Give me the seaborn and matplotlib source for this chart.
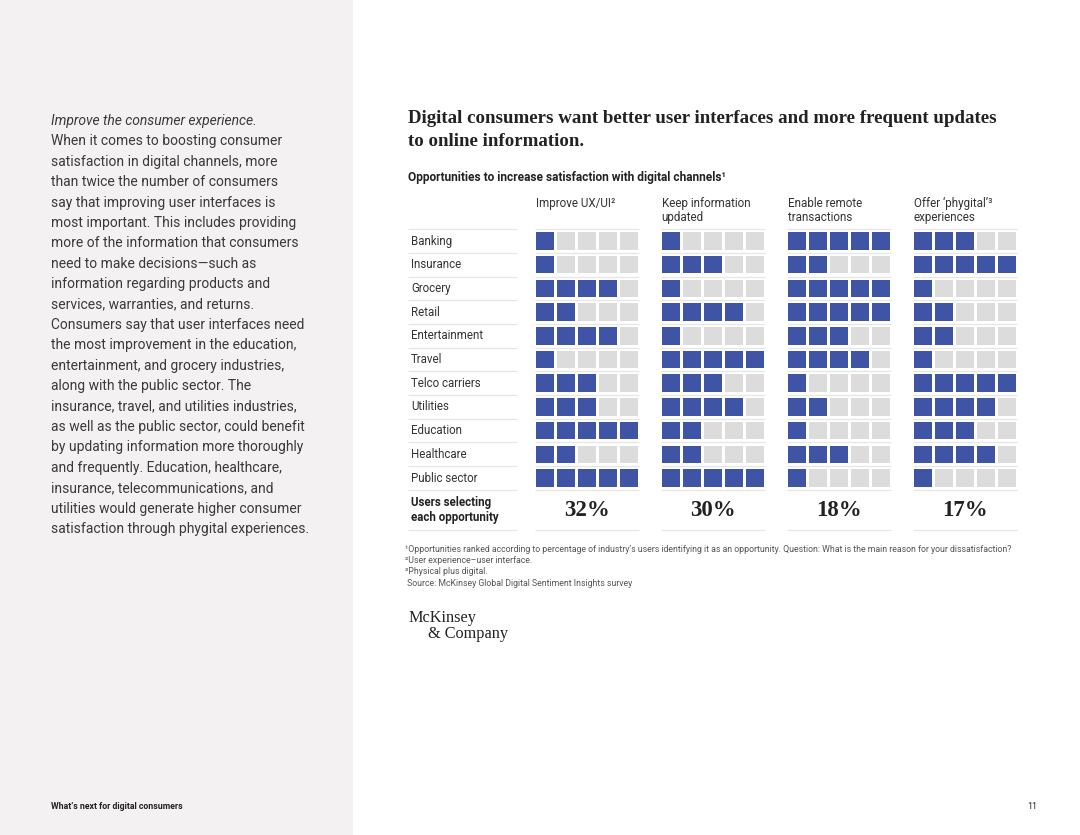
import pandas as pd
import seaborn as sns
import matplotlib.pyplot as plt
from matplotlib.patches import Rectangle

# data
industries = ['Banking', 'Insurance', 'Grocery', 'Retail', 'Entertainment', 'Travel',
              'Telco carriers', 'Utilities', 'Education', 'Healthcare', 'Public sector']
opportunities = ['Improve UX/UI²', 'Keep information\nupdated', 'Enable remote\ntransactions',
                 'Offer ‘phygital’³\nexperiences']
ux_ui = [1, 1, 4, 2, 4, 1, 3, 3, 5, 2, 5]
keep_info = [1, 3, 1, 4, 1, 5, 3, 4, 2, 2, 5]
remote = [5, 2, 5, 5, 3, 4, 1, 2, 1, 3, 1]
phygital = [3, 5, 1, 2, 2, 1, 5, 4, 3, 4, 1]
shares = ['32%', '30%', '18%', '17%']
n_slots = 5

body_lines = [
    'Improve the consumer experience.',
    'When it comes to boosting consumer',
    'satisfaction in digital channels, more',
    'than twice the number of consumers',
    'say that improving user interfaces is',
    'most important. This includes providing',
    'more of the information that consumers',
    'need to make decisions\u2014such as',
    'information regarding products and',
    'services, warranties, and returns.',
    'Consumers say that user interfaces need',
    'the most improvement in the education,',
    'entertainment, and grocery industries,',
    'along with the public sector. The',
    'insurance, travel, and utilities industries,',
    'as well as the public sector, could benefit',
    'by updating information more thoroughly',
    'and frequently. Education, healthcare,',
    'insurance, telecommunications, and',
    'utilities would generate higher consumer',
    'satisfaction through phygital experiences.',
]
footnotes = [
    '¹Opportunities ranked according to percentage of industry’s users identifying it as an opportunity. '
    'Question: What is the main reason for your dissatisfaction?',
    '²User experience\u2013user interface.',
    '³Physical plus digital.',
    ' Source: McKinsey Global Digital Sentiment Insights survey',
]

counts = [ux_ui, keep_info, remote, phygital]
rows = []
for g, col in enumerate(counts):
    for i, n in enumerate(col):
        for j in range(n_slots):
            rows.append({'industry': industries[i], 'x': g * (n_slots + 1) + j, 'y': i,
                         'filled': 'yes' if j < n else 'no'})
df = pd.DataFrame(rows)

sns.set_theme(style='white')
plt.rcParams['font.family'] = ['Roboto', 'DejaVu Sans']

W, H = 1080, 835
fig = plt.figure(figsize=(W / 100, H / 100), dpi=100)
fig.patch.set_facecolor('white')
fig.patches.append(Rectangle((0, 0), 353 / W, 1, transform=fig.transFigure,
                             facecolor='#f3f1f2', edgecolor='none', zorder=0))

def fx(x):
    return x / W

def fy(y):
    return 1 - y / H

BLUE = '#3f54a5'
GREY = '#dddcdd'
LINE = '#e6e6e6'

# left text column
for k, line in enumerate(body_lines):
    fig.text(fx(51), fy(125 + k * 20.4), line, fontsize=10, color='#3a3a3a',
             style='italic' if k == 0 else 'normal', va='baseline', ha='left')

fig.text(fx(51), fy(809), 'What’s next for digital consumers', fontsize=6.3,
         fontweight='bold', color='#222222', va='baseline')
fig.text(fx(1027), fy(809), '11', fontsize=6.3, color='#222222', va='baseline')

# title and subtitle
fig.text(fx(408), fy(123), 'Digital consumers want better user interfaces and more frequent updates',
         family='Liberation Serif', fontweight='bold', fontsize=13.6, color='#222222', va='baseline')
fig.text(fx(408), fy(146), 'to online information.',
         family='Liberation Serif', fontweight='bold', fontsize=13.6, color='#222222', va='baseline')
fig.text(fx(408), fy(181), 'Opportunities to increase satisfaction with digital channels¹',
         fontsize=8.6, fontweight='bold', color='#222222', va='baseline')

# grid axes, laid out so one slot = 21 px and one row = 23.7 px
X0, DX, Y0, DY = 545, 21, 241, 23.7
left_px, right_px, top_px, bot_px = 404, 1020, 226, 535
ax = fig.add_axes([fx(left_px), fy(bot_px), fx(right_px - left_px), (bot_px - top_px) / H])
ax.set_xlim((left_px - X0) / DX, (right_px - X0) / DX)
ax.set_ylim((bot_px - Y0) / DY, (top_px - Y0) / DY)
ax.axis('off')

sns.scatterplot(data=df, x='x', y='y', hue='filled', palette={'yes': BLUE, 'no': GREY},
                marker='s', s=160, linewidth=0, legend=False, ax=ax, zorder=3)

lab_x = (411 - X0) / DX
lab_x0, lab_x1 = (408 - X0) / DX, (517 - X0) / DX
bounds = [i - 0.5 for i in range(len(industries) + 1)] + [(530 - Y0) / DY]
ax.hlines(bounds, lab_x0, lab_x1, color=LINE, lw=0.9, zorder=1)
for g in range(len(opportunities)):
    gx = g * (n_slots + 1)
    ax.hlines(bounds, gx - 0.48, gx + n_slots - 0.52, color=LINE, lw=0.9, zorder=1)
    ax.text(gx - 0.45, (197 - Y0) / DY, opportunities[g], fontsize=8.4, color='#333333',
            ha='left', va='top', linespacing=1.1, clip_on=False)
    ax.text(gx + (n_slots - 1) / 2, (511 - Y0) / DY, shares[g], family='Liberation Serif',
            fontweight='bold', fontsize=16.5, color='#222222', ha='center', va='center')

for i, name in enumerate(industries):
    ax.text(lab_x, i, name, fontsize=8.3, color='#333333', ha='left', va='center')
ax.text(lab_x, (510 - Y0) / DY, 'Users selecting\neach opportunity', fontsize=8.3,
        fontweight='bold', color='#222222', ha='left', va='center', linespacing=1.2)

# footnotes and logo
for k, note in enumerate(footnotes):
    fig.text(fx(405), fy(552 + k * 11.2), note, fontsize=6.3, color='#555555', va='baseline')
fig.text(fx(408), fy(622), 'McKinsey', family='Liberation Serif', fontsize=11.7,
         color='#222222', va='baseline')
fig.text(fx(428), fy(638), '& Company', family='Liberation Serif', fontsize=11.7,
         color='#222222', va='baseline')

fig.savefig('out.png', dpi=100)
